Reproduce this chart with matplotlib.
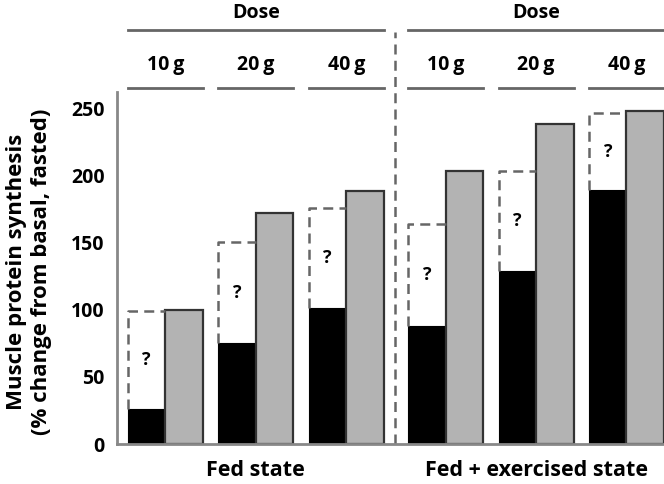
import numpy as np
import matplotlib
matplotlib.use("Agg")
from matplotlib import pyplot as plt

plt.rcParams['font.family'] = ['Open Sans', 'DejaVu Sans']
plt.rcParams['font.weight'] = 'bold'

# data
states = ['Fed state', 'Fed + exercised state']
doses = ['10\u2009g', '20\u2009g', '40\u2009g']
measured = [[26, 75, 101], [88, 129, 189]]        # black bars
question = [[99, 150, 176], [164, 203, 246]]      # dashed '?' tops
expected = [[100, 172, 188], [203, 238, 248]]     # grey bars

grey = '#b3b3b3'
line_col = '#666666'
w = 1.0
dose_step = 2.41
state_step = 7.47

fig = plt.figure(figsize=(6.64, 4.84), dpi=100)
ax = fig.add_axes([117 / 664, 1 - 444 / 484, 1 - 117 / 664, 352 / 484])

for s in range(len(states)):
    for d in range(len(doses)):
        xb = s * state_step + d * dose_step
        xg = xb + w
        ax.bar(xb, measured[s][d], width=w, color='black', edgecolor='black', linewidth=0.8)
        ax.bar(xg, expected[s][d], width=w, color=grey, edgecolor='#333333', linewidth=1.6)
        # dashed '?' box on top of the black bar
        ax.plot([xb - w / 2, xb - w / 2, xg - w / 2],
                [measured[s][d], question[s][d], question[s][d]],
                color=line_col, lw=1.8, dashes=(4, 2.5), clip_on=False)
        ax.text(xb, (measured[s][d] + question[s][d]) / 2, '?', ha='center', va='center',
                fontsize=13, fontweight='bold')
        # dose header
        ax.text(xb + w / 2, 282, doses[d], ha='center', va='center',
                fontsize=14, fontweight='bold', clip_on=False)
        ax.plot([xb - w / 2, xg + w / 2], [265, 265], color=line_col, lw=2, clip_on=False)
    left = s * state_step - w / 2
    right = s * state_step + 2 * dose_step + 1.5 * w
    ax.plot([left, right], [308, 308], color=line_col, lw=2, clip_on=False)
    ax.text((left + right) / 2, 321, 'Dose', ha='center', va='center',
            fontsize=14, fontweight='bold', clip_on=False)
    ax.text((left + right) / 2, -20, states[s], ha='center', va='center',
            fontsize=15.5, fontweight='bold', clip_on=False)

# separator between states
sep_x = 6.62
ax.plot([sep_x, sep_x], [0, 307], color=line_col, lw=1.8, dashes=(4, 2.5), clip_on=False)

ax.set_xlim(-0.79, 13.79)
ax.set_ylim(0, 262)
ax.set_yticks([0, 50, 100, 150, 200, 250])
ax.set_xticks([])
ax.tick_params(axis='y', length=0, pad=9, labelsize=14)
for lab in ax.get_yticklabels():
    lab.set_fontweight('bold')
for sp in ['top', 'right']:
    ax.spines[sp].set_visible(False)
for sp in ['left', 'bottom']:
    ax.spines[sp].set_color('#888888')
    ax.spines[sp].set_linewidth(2)

fig.text(29 / 664, 1 - 272 / 484, 'Muscle protein synthesis\n(% change from basal, fasted)',
         rotation=90, ha='center', va='center', multialignment='center',
         fontsize=16, fontweight='bold', linespacing=1.25)

fig.savefig('out.png', dpi=100)
